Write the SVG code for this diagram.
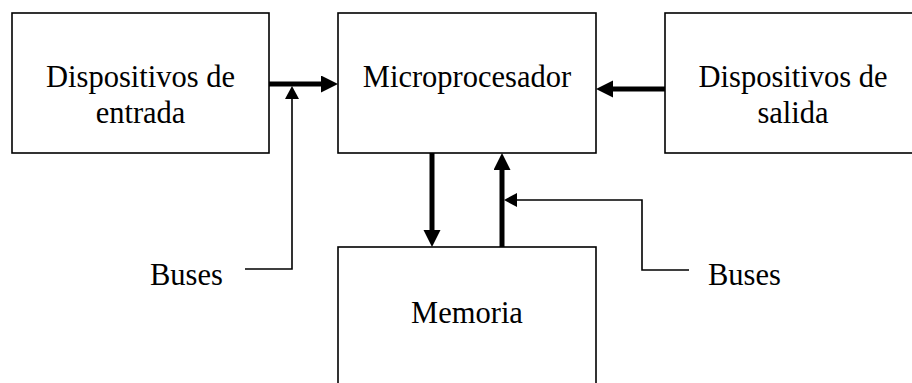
<svg xmlns="http://www.w3.org/2000/svg" width="912" height="383" viewBox="0 0 912 383">
  <style>
    .box { fill: #fff; stroke: #000; stroke-width: 1.6; }
    .lbl { font-family: "Liberation Serif", "Times New Roman", serif; font-size: 30.5px; fill: #000; }
    .mid { text-anchor: middle; }
    .bus { fill: none; stroke: #000; stroke-width: 5; }
    .wire { fill: none; stroke: #000; stroke-width: 1.6; }
  </style>
  <defs>
    <marker id="bigHead" markerUnits="userSpaceOnUse" markerWidth="18" markerHeight="18" refX="0" refY="8.5" orient="auto">
      <path d="M0,0 L17,8.5 L0,17 z" fill="#000"/>
    </marker>
    <marker id="smallHead" markerUnits="userSpaceOnUse" markerWidth="14" markerHeight="14" refX="0" refY="7" orient="auto">
      <path d="M0,0 L13,7 L0,14 z" fill="#000"/>
    </marker>
  </defs>

  <g id="entrada">
    <rect class="box" x="12" y="13" width="257" height="140"/>
    <text class="lbl mid" x="140.5" y="87">Dispositivos de</text>
    <text class="lbl mid" x="140.5" y="123">entrada</text>
  </g>

  <g id="microprocesador">
    <rect class="box" x="338" y="13" width="258" height="140"/>
    <text class="lbl mid" x="467" y="87">Microprocesador</text>
  </g>

  <g id="salida">
    <rect class="box" x="665" y="13" width="258" height="140"/>
    <text class="lbl mid" x="793" y="87">Dispositivos de</text>
    <text class="lbl mid" x="793" y="123">salida</text>
  </g>

  <g id="memoria">
    <rect class="box" x="338" y="247" width="258" height="150"/>
    <text class="lbl mid" x="467" y="323">Memoria</text>
  </g>

  <g id="buses-izq">
    <text class="lbl" x="150" y="285">Buses</text>
  </g>
  <g id="buses-der">
    <text class="lbl" x="708" y="285">Buses</text>
  </g>

  <g id="connectors">
    <!-- wide data paths -->
    <line class="bus" x1="269" y1="84" x2="321" y2="84" marker-end="url(#bigHead)"/>
    <line class="bus" x1="665" y1="89" x2="613" y2="89" marker-end="url(#bigHead)"/>
    <line class="bus" x1="432" y1="153" x2="432" y2="230" marker-end="url(#bigHead)"/>
    <line class="bus" x1="502" y1="247" x2="502" y2="170" marker-end="url(#bigHead)"/>
    <!-- bus label leaders -->
    <polyline class="wire" points="245,269 292,269 292,99" marker-end="url(#smallHead)"/>
    <polyline class="wire" points="689,270 642,270 642,200 517,200" marker-end="url(#smallHead)"/>
  </g>
</svg>
